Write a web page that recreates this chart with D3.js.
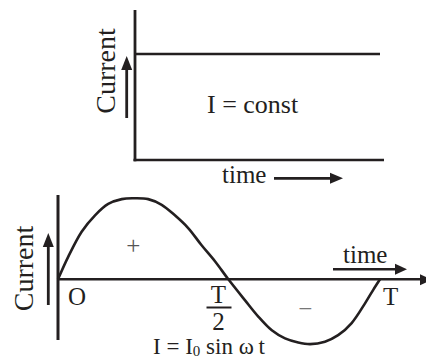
<!DOCTYPE html>
<html>
<head>
<meta charset="utf-8">
<script src="https://cdn.jsdelivr.net/npm/d3@7/dist/d3.min.js"></script>
<style>
  html, body { margin: 0; padding: 0; background: #fff; }
  svg { display: block; }
  text { font-family: "Liberation Serif", "Times New Roman", serif; fill: #231f20; }
</style>
</head>
<body>
<svg id="chart" width="426" height="359"></svg>
<script>
// ---- Data ----
// Top panel: constant current
const dcTime = [0, 1];
const dcCurrent = [1, 1];
const dcLabel = "I = const";

// Bottom panel: alternating current, time in units of T, current in units of I0
const acTime = [0, 0.032, 0.074, 0.115, 0.156, 0.198, 0.234, 0.280, 0.322, 0.363, 0.405, 0.446, 0.488, 0.529,
                0.581, 0.622, 0.664, 0.705, 0.746, 0.783, 0.829, 0.870, 0.912, 0.953, 0.979, 1.0];
const acCurrent = [0, 0.28, 0.59, 0.79, 0.93, 0.99, 1.0, 0.99, 0.92, 0.79, 0.63, 0.42, 0.22, 0,
                   -0.26, -0.46, -0.63, -0.73, -0.78, -0.80, -0.77, -0.69, -0.54, -0.30, -0.13, 0];
const acTickValues = [0, 0.5, 1];
const acTickLabels = ["O", "T/2", "T"];
const signLabels = ["+", "\u2212"];
const axisTitleY = "Current";
const axisTitleX = "time";

// ---- Drawing ----
const svg = d3.select("#chart");
const ink = "#231f20";

function arrowHead(g, x, y, dir, len, half) {
  let pts;
  if (dir === "right") pts = [[x, y], [x - len, y - half], [x - len, y + half]];
  else pts = [[x, y], [x - half, y + len], [x + half, y + len]];
  g.append("path").attr("d", d3.line()(pts) + "Z").attr("fill", ink);
}

// ===== Top panel =====
const xTop = d3.scaleLinear().domain([0, 1]).range([135, 380]);
const yTop = d3.scaleLinear().domain([0, 1]).range([160, 54]);
const gTop = svg.append("g");

gTop.append("g").attr("transform", `translate(0,${yTop(0)})`)
  .call(d3.axisBottom(xTop).ticks(0).tickSizeOuter(0))
  .call(g => g.select(".domain").attr("stroke", ink).attr("stroke-width", 2.6).attr("d", `M${xTop(0) - 1.5},0H${xTop(1) + 4}`));
gTop.append("g").attr("transform", `translate(${xTop(0)},0)`)
  .call(d3.axisLeft(yTop).ticks(0).tickSizeOuter(0))
  .call(g => g.select(".domain").attr("stroke", ink).attr("stroke-width", 2.8).attr("d", `M0,10V${yTop(0) + 1.3}`));

gTop.append("path")
  .datum(dcTime.map((t, i) => [t, dcCurrent[i]]))
  .attr("fill", "none").attr("stroke", ink).attr("stroke-width", 2.6)
  .attr("d", d3.line().x(d => xTop(d[0])).y(d => yTop(d[1])));

gTop.append("text").attr("x", 207).attr("y", 113).attr("font-size", 26).text(dcLabel);

gTop.append("text").attr("transform", "translate(115,71) rotate(-90)")
  .attr("text-anchor", "middle").attr("font-size", 28).text(axisTitleY);
gTop.append("line").attr("x1", 126.7).attr("x2", 126.7).attr("y1", 118).attr("y2", 66)
  .attr("stroke", ink).attr("stroke-width", 2.8);
arrowHead(gTop, 126.7, 56, "up", 14, 5.5);

gTop.append("text").attr("x", 222).attr("y", 183).attr("font-size", 25).text(axisTitleX);
gTop.append("line").attr("x1", 274).attr("x2", 334).attr("y1", 178.3).attr("y2", 178.3)
  .attr("stroke", ink).attr("stroke-width", 2.8);
arrowHead(gTop, 343, 178.3, "right", 13, 5.5);

// ===== Bottom panel =====
const xBot = d3.scaleLinear().domain([0, 1]).range([58, 380]);
const yBot = d3.scaleLinear().domain([-1, 1]).range([360.3, 198.3]);
const gBot = svg.append("g");

gBot.append("g").attr("transform", `translate(${xBot(0)},0)`)
  .call(d3.axisLeft(yBot).ticks(0).tickSizeOuter(0))
  .call(g => g.select(".domain").attr("stroke", ink).attr("stroke-width", 3).attr("d", `M0,195V340`));
gBot.append("g").attr("transform", `translate(0,${yBot(0)})`)
  .call(d3.axisBottom(xBot).tickValues(acTickValues).tickSize(0).tickFormat(""))
  .call(g => g.select(".domain").attr("stroke", ink).attr("stroke-width", 2.6).attr("d", `M${xBot(0)},0H424`));
arrowHead(gBot, 432, yBot(0) + 0.5, "right", 12, 5.5);

gBot.append("path")
  .datum(acTime.map((t, i) => [t, acCurrent[i]]))
  .attr("fill", "none").attr("stroke", ink).attr("stroke-width", 2.6)
  .attr("d", d3.line().curve(d3.curveCatmullRom).x(d => xBot(d[0])).y(d => yBot(d[1])));

acTickValues.forEach((v, i) => {
  const lab = acTickLabels[i];
  if (lab.includes("/")) {
    const [num, den] = lab.split("/");
    const cx = xBot(v) - 0.5;
    gBot.append("text").attr("x", cx).attr("y", 303).attr("text-anchor", "middle").attr("font-size", 25).text(num);
    gBot.append("line").attr("x1", cx - 12).attr("x2", cx + 13).attr("y1", 307.5).attr("y2", 307.5)
      .attr("stroke", ink).attr("stroke-width", 2);
    gBot.append("text").attr("x", cx).attr("y", 330).attr("text-anchor", "middle").attr("font-size", 25).text(den);
  } else {
    const dx = i === 0 ? 10 : 3;
    gBot.append("text").attr("x", xBot(v) + dx).attr("y", 304.5).attr("font-size", 25).text(lab);
  }
});

gBot.append("text").attr("x", xBot(0.234)).attr("y", 253.5).attr("text-anchor", "middle")
  .attr("font-size", 25).style("fill", "#555").text(signLabels[0]);
gBot.append("text").attr("x", xBot(0.768)).attr("y", 316.5).attr("text-anchor", "middle")
  .attr("font-size", 25).style("fill", "#777").text(signLabels[1]);

gBot.append("text").attr("transform", "translate(33,268.5) rotate(-90)")
  .attr("text-anchor", "middle").attr("font-size", 28).text(axisTitleY);
gBot.append("line").attr("x1", 48.3).attr("x2", 48.3).attr("y1", 305).attr("y2", 243)
  .attr("stroke", ink).attr("stroke-width", 2.8);
arrowHead(gBot, 48.3, 233, "up", 14, 5.5);

gBot.append("text").attr("x", 343).attr("y", 263.3).attr("font-size", 25).text(axisTitleX);
gBot.append("line").attr("x1", 333).attr("x2", 398).attr("y1", 269.3).attr("y2", 269.3)
  .attr("stroke", ink).attr("stroke-width", 2.6);
arrowHead(gBot, 407, 269.3, "right", 12, 5.5);

const f = gBot.append("text").attr("x", 153).attr("y", 354).attr("font-size", 23);
f.append("tspan").text("I = I");
f.append("tspan").attr("font-size", 15).attr("dy", 2).text("0");
f.append("tspan").attr("dy", -2).text(" sin \u03c9\u2009t");
</script>
</body>
</html>
